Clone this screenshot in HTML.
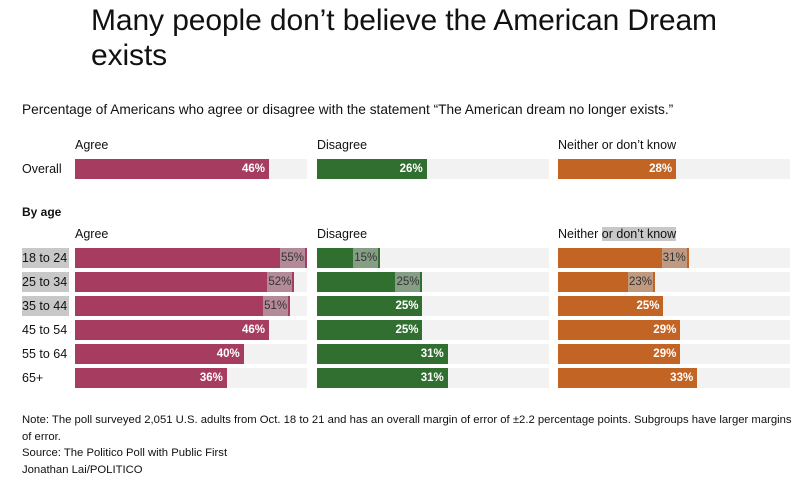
<!DOCTYPE html>
<html><head><meta charset="utf-8">
<style>
body{margin:0;width:812px;height:489px;background:#fff;font-family:"Liberation Sans",sans-serif;color:#111;position:relative;overflow:hidden}
.a{position:absolute;white-space:nowrap}
.t{font-size:30px;line-height:35px;left:91px;top:3px;letter-spacing:-0.1px}
.s{font-size:13.7px;left:22px;top:102px}
.h{font-size:12.5px}
.n{font-size:11.3px;left:22px;line-height:16.5px}
.lbl{font-size:12.5px;left:22px;height:20px;line-height:20px}
.hl{background:#c8c8c8}
.v{font-size:11.5px;font-weight:bold;color:#fff;height:20px;line-height:20px;text-align:right}
.vh{font-weight:normal;color:#333;background:rgba(190,190,190,0.6);padding:0 1px}
</style></head><body>
<div class="a t">Many people don’t believe the American Dream<br>exists</div>
<div class="a s">Percentage of Americans who agree or disagree with the statement “The American dream no longer exists.”</div>
<div class="a h" style="left:75px;top:138px">Agree</div>
<div class="a h" style="left:317px;top:138px">Disagree</div>
<div class="a h" style="left:558px;top:138px">Neither or don’t know</div>
<div class="a h" style="left:22px;top:205px;font-weight:bold;font-size:12px">By age</div>
<div class="a h" style="left:75px;top:227px">Agree</div>
<div class="a h" style="left:317px;top:227px">Disagree</div>
<div class="a h" style="left:558px;top:227px">Neither <span class="hl">or don’t know</span></div>
<div id="chart"></div>
<div class="a n" style="top:412px">Note: The poll surveyed 2,051 U.S. adults from Oct. 18 to 21 and has an overall margin of error of ±2.2 percentage points. Subgroups have larger margins<br>of error.<br>Source: The Politico Poll with Public First<br>Jonathan Lai/POLITICO</div>
<script>
const categories=["Overall","18 to 24","25 to 34","35 to 44","45 to 54","55 to 64","65+"];
const agree=[46,55,52,51,46,40,36];
const disagree=[26,15,25,25,25,31,31];
const neither=[28,31,23,25,29,29,33];
const highlightAgree=[1,2,3];
const highlightDisagree=[1,2];
const highlightNeither=[1,2];
const highlightLabels=[1,2,3];
const maxVal=55;
const panels=[{x:75,vals:agree,color:"#a63d60",hl:highlightAgree,name:"agree"},
{x:317,vals:disagree,color:"#306f30",hl:highlightDisagree,name:"disagree"},
{x:558,vals:neither,color:"#c26424",hl:highlightNeither,name:"neither"}];
const trackW=232;
function xs(v){return v/maxVal*trackW;}
function ys(i){return i===0?159:248+(i-1)*24;}
const c=document.getElementById('chart');
categories.forEach((cat,i)=>{
  const l=document.createElement('div');
  l.className='a lbl'+(highlightLabels.includes(i)?' hl':'');
  l.style.top=ys(i)+'px';
  if(highlightLabels.includes(i)){l.style.left='22px';l.style.paddingRight='2px';}
  l.textContent=cat;
  
  
  c.appendChild(l);
  panels.forEach(p=>{
    const t=document.createElement('div');
    t.className='a';
    t.style.cssText=`left:${p.x}px;top:${ys(i)}px;width:${trackW}px;height:20px;background:#f2f2f2`;
    
    
    c.appendChild(t);
    const w=xs(p.vals[i]);
    const b=document.createElement('div');
    b.className='a';
    b.style.cssText=`left:${p.x}px;top:${ys(i)}px;width:${w}px;height:20px;background:${p.color}`;
    
    
    c.appendChild(b);
    const v=document.createElement('div');
    const h=p.hl.includes(i);
    v.className='a v'+(h?' vh':'');
    v.textContent=p.vals[i]+'%';
    v.style.top=ys(i)+'px';
    v.style.right=(812-(p.x+w)+(h?2:4))+'px';
    
    
    c.appendChild(v);
  });
});
</script>
</body></html>
